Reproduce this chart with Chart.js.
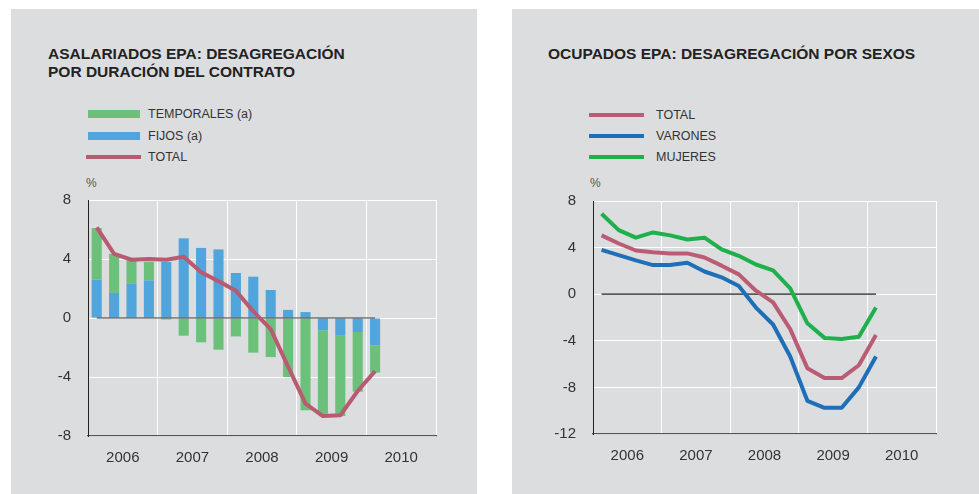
<!DOCTYPE html>
<html>
<head>
<meta charset="utf-8">
<title>EPA</title>
<script src="https://cdn.jsdelivr.net/npm/chart.js"></script>
<style>
body { margin:0; width:979px; height:494px; background:#fff; position:relative; overflow:hidden; font-family:"Liberation Sans", Arial, sans-serif; color:#2b2b2b; }
.panel { position:absolute; top:9px; height:485px; background:#dcdddf; }
.title { position:absolute; font-weight:bold; font-size:15.5px; line-height:18px; color:#222; white-space:nowrap; }
.lbl { position:absolute; font-size:12.5px; line-height:14px; color:#333; white-space:nowrap; }
.pct { position:absolute; font-size:12px; line-height:14px; color:#555; }
.sw { position:absolute; }
canvas { position:absolute; }
</style>
</head>
<body>
<div class="panel" style="left:11px;width:466px"></div>
<div class="panel" style="left:512px;width:467px"></div>

<div class="title" style="left:48px;top:45px">ASALARIADOS EPA: DESAGREGACIÓN<br>POR DURACIÓN DEL CONTRATO</div>
<div class="title" style="left:548px;top:45px">OCUPADOS EPA: DESAGREGACIÓN POR SEXOS</div>

<div class="sw" style="left:88px;top:110px;width:52px;height:8px;background:#6cc17a"></div>
<div class="lbl" style="left:148px;top:107px">TEMPORALES (a)</div>
<div class="sw" style="left:88px;top:132px;width:52px;height:8px;background:#4fa5dc"></div>
<div class="lbl" style="left:148px;top:129px">FIJOS (a)</div>
<div class="sw" style="left:86px;top:155px;width:55px;height:4px;background:#b95a73"></div>
<div class="lbl" style="left:148px;top:150px">TOTAL</div>

<div class="sw" style="left:589px;top:113px;width:55px;height:4px;background:#bb5c75"></div>
<div class="lbl" style="left:656px;top:108px">TOTAL</div>
<div class="sw" style="left:589px;top:134px;width:55px;height:4px;background:#1f6fb8"></div>
<div class="lbl" style="left:656px;top:129px">VARONES</div>
<div class="sw" style="left:589px;top:155px;width:55px;height:4px;background:#1fb04c"></div>
<div class="lbl" style="left:656px;top:150px">MUJERES</div>

<div class="pct" style="left:86px;top:176px">%</div>
<div class="pct" style="left:590px;top:176px">%</div>

<canvas id="contrato" width="420" height="306" style="left:30px;top:174px"></canvas>
<canvas id="sexos" width="415" height="305" style="left:535px;top:175px"></canvas>

<script>
// quarters 2006-2010, data ends in 2010 Q1
var quarters = ['I-06','II-06','III-06','IV-06','I-07','II-07','III-07','IV-07',
  'I-08','II-08','III-08','IV-08','I-09','II-09','III-09','IV-09',
  'I-10','II-10','III-10','IV-10'];
var years = ['2006','2007','2008','2009','2010'];

// left: asalariados
var temporales = [3.5, 2.65, 1.55, 1.25, -0.1, -1.2, -1.65, -2.15, -1.25, -2.35, -2.65, -4.0, -6.25, -5.65, -5.45, -4.05, -1.85];
var fijos = [2.6, 1.7, 2.35, 2.55, 3.8, 5.4, 4.75, 4.65, 3.05, 2.8, 1.9, 0.55, 0.4, -0.85, -1.2, -0.95, -1.85];
var totalAsalariados = [6.15, 4.35, 3.95, 4.0, 3.95, 4.15, 3.1, 2.5, 1.85, 0.45, -0.75, -3.3, -5.8, -6.65, -6.6, -4.95, -3.6];
var ticksLeft = [-8, -4, 0, 4, 8];

// right: ocupados
var totalOcupados = [5.05, 4.35, 3.75, 3.6, 3.5, 3.5, 3.15, 2.45, 1.7, 0.3, -0.7, -3.0, -6.35, -7.2, -7.2, -6.1, -3.5];
var varones = [3.8, 3.35, 2.9, 2.5, 2.5, 2.7, 1.95, 1.45, 0.7, -1.15, -2.6, -5.35, -9.15, -9.75, -9.75, -8.0, -5.35];
var mujeres = [6.9, 5.5, 4.85, 5.3, 5.05, 4.7, 4.85, 3.85, 3.3, 2.55, 2.05, 0.5, -2.5, -3.75, -3.85, -3.65, -1.15];
var ticksRight = [-12, -8, -4, 0, 4, 8];

Chart.defaults.font.family = '"Liberation Sans", Arial, sans-serif';
Chart.defaults.color = '#333';

function zeros(arr) {
  return arr.map(function () { return 0; });
}

function yearAxis(h) {
  return {
    type: 'category', labels: years, position: 'bottom', offset: true,
    grid: { offset: true, color: '#fff', lineWidth: 1, drawTicks: false },
    border: { color: '#555', width: 1.2 },
    ticks: { padding: 13, font: { size: 15 }, color: '#333', maxRotation: 0, autoSkip: false },
    afterFit: function (s) { s.height = h; }
  };
}

function valueAxis(t, stacked) {
  return {
    min: t[0], max: t[t.length - 1], stacked: stacked,
    grid: { color: '#fff', lineWidth: 1, drawTicks: false },
    border: { color: '#222', width: 1 },
    ticks: { stepSize: 4, padding: 17, font: { size: 15 }, color: '#333' },
    afterFit: function (s) { s.width = 58; }
  };
}

new Chart(document.getElementById('contrato'), {
  type: 'bar',
  data: {
    labels: quarters,
    datasets: [
      { type: 'line', label: 'TOTAL', data: totalAsalariados, stack: 'total', order: 0,
        borderColor: '#b95a73', borderWidth: 4, pointRadius: 0, tension: 0, borderJoinStyle: 'round' },
      { type: 'line', label: 'cero', data: zeros(totalAsalariados), stack: 'cero', order: 1,
        borderColor: '#3a3a3a', borderWidth: 1.2, pointRadius: 0 },
      { label: 'FIJOS (a)', data: fijos, backgroundColor: '#4fa5dc', order: 2,
        barPercentage: 0.58, categoryPercentage: 1 },
      { label: 'TEMPORALES (a)', data: temporales, backgroundColor: '#6cc17a', order: 3,
        barPercentage: 0.58, categoryPercentage: 1 }
    ]
  },
  options: {
    responsive: false,
    animation: false,
    layout: { padding: { top: 9, right: 14, left: 0, bottom: 0 } },
    plugins: { legend: { display: false }, tooltip: { enabled: false } },
    scales: {
      x: { type: 'category', display: false, offset: true, stacked: true },
      years: yearAxis(44),
      y: valueAxis(ticksLeft, true)
    }
  }
});

new Chart(document.getElementById('sexos'), {
  type: 'line',
  data: {
    labels: quarters,
    datasets: [
      { label: 'TOTAL', data: totalOcupados, borderColor: '#bb5c75' },
      { label: 'VARONES', data: varones, borderColor: '#1f6fb8' },
      { label: 'MUJERES', data: mujeres, borderColor: '#1fb04c' },
      { label: 'cero', data: zeros(totalOcupados), borderColor: '#222', borderWidth: 1.2 }
    ]
  },
  options: {
    responsive: false,
    animation: false,
    layout: { padding: { top: 9, right: 14, left: 0, bottom: 0 } },
    elements: { line: { borderWidth: 4, tension: 0, borderJoinStyle: 'round' }, point: { radius: 0 } },
    plugins: { legend: { display: false }, tooltip: { enabled: false } },
    scales: {
      x: { type: 'category', display: false, offset: true },
      years: yearAxis(46),
      y: valueAxis(ticksRight, false)
    }
  }
});
</script>
</body>
</html>
